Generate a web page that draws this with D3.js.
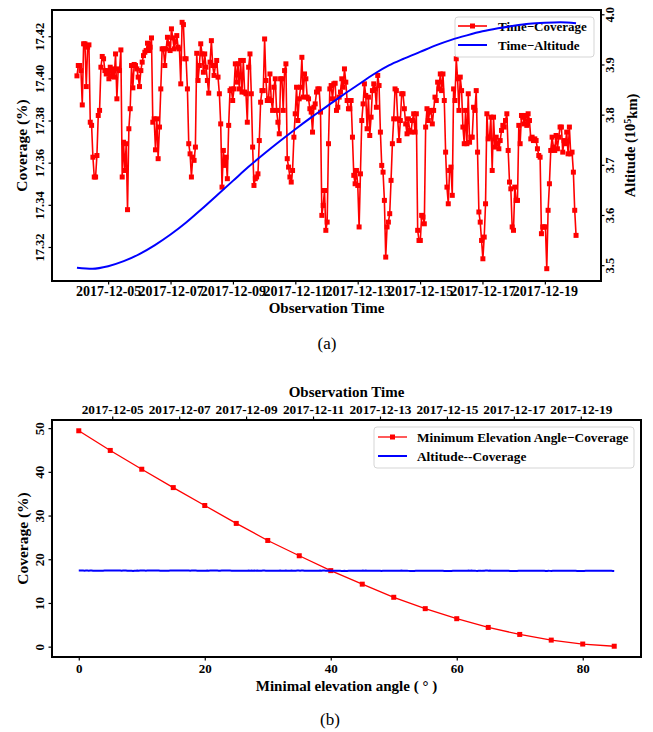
<!DOCTYPE html>
<html><head><meta charset="utf-8">
<script src="https://cdn.jsdelivr.net/npm/d3@7"></script>
<style>
body{margin:0;background:#fff;}
svg text{font-family:"Liberation Serif","Times New Roman",serif;}
</style></head><body>
<svg id="chart" width="653" height="732"></svg>
<script>
// ---------- DATA ----------
const coverageStart = "2017-12-04T00:00:00Z";
const coverageEnd = "2017-12-20T00:00:00Z";
const coverage = [
17.4012,17.4061,17.4061,17.4037,17.3874,17.4164,17.4164,17.3961,17.4148,17.4159,
17.3792,17.3777,17.3626,17.3532,17.3532,17.3634,17.3824,17.3848,17.4053,17.4104,
17.4093,17.4037,17.4021,17.4037,17.3998,17.4053,17.4009,17.4045,17.4006,17.4116,
17.3903,17.4045,17.4037,17.4135,17.3532,17.3697,17.3563,17.3690,17.3377,17.3761,
17.3856,17.4061,17.3955,17.4066,17.4061,17.4045,17.4006,17.3961,17.4037,17.4077,
17.4108,17.4124,17.4132,17.4167,17.4132,17.4148,17.4192,17.3792,17.3808,17.3661,
17.3808,17.3619,17.3769,17.3950,17.4140,17.4140,17.4061,17.4140,17.4195,17.4164,
17.4132,17.4235,17.4192,17.4140,17.4172,17.4203,17.4148,17.4140,17.3974,17.4266,
17.4255,17.4093,17.4093,17.3950,17.3690,17.3642,17.3532,17.3626,17.3611,17.3674,
17.4119,17.3990,17.4061,17.4164,17.4116,17.4029,17.4116,17.4053,17.3990,17.3930,
17.4077,17.4179,17.4061,17.4014,17.4061,17.4085,17.4006,17.3927,17.3784,17.3484,
17.3658,17.3587,17.3626,17.3524,17.3777,17.3942,17.3950,17.3895,17.3950,17.4069,
17.3982,17.4069,17.3950,17.4085,17.3935,17.4085,17.3935,17.3927,17.3792,17.4053,
17.4116,17.3927,17.3674,17.3492,17.3524,17.3532,17.3547,17.3705,17.3887,17.3942,
17.3942,17.4187,17.3990,17.3895,17.3903,17.4021,17.3895,17.3848,17.3958,17.3998,
17.3848,17.3792,17.3737,17.3998,17.3998,17.3848,17.4037,17.4069,17.3619,17.3579,
17.3532,17.3508,17.3563,17.3721,17.3832,17.3958,17.3800,17.3903,17.3958,17.4100,
17.3911,17.4021,17.3998,17.3911,17.3903,17.3856,17.3840,17.3745,17.3863,17.3879,
17.3935,17.3950,17.3950,17.3840,17.3350,17.3397,17.3468,17.3279,17.3318,17.3690,
17.3950,17.3966,17.3903,17.3974,
17.3977,17.3848,17.3863,17.3911,17.3935,17.3998,17.3958,17.4045,17.3982,17.3895,
17.3856,17.3856,17.3895,17.3721,17.3540,17.3500,17.3563,17.3492,17.3295,17.3547,
17.3800,17.3879,17.3974,17.3919,17.3761,17.3911,17.3729,17.3816,17.3942,17.3974,
17.3950,17.3863,17.4014,17.3966,17.3745,17.3587,17.3555,17.3421,17.3152,17.3295,
17.3318,17.3358,17.3516,17.3690,17.3808,17.3950,17.3942,17.3808,17.3705,17.3800,
17.3927,17.3927,17.3856,17.3784,17.3737,17.3808,17.3753,17.3745,17.3800,17.3832,
17.3745,17.3832,17.3279,17.3231,17.3231,17.3350,17.3342,17.3310,17.3769,17.3856,
17.3800,17.3840,17.3848,17.3784,17.3848,17.3911,17.3895,17.3982,17.3950,17.4021,
17.3942,17.4021,17.3895,17.3650,17.3484,17.3405,17.3563,17.3579,17.3445,17.3950,
17.3895,17.4093,17.3998,17.3848,17.4006,17.3942,17.3769,17.3690,17.3848,17.3690,
17.3927,17.3697,17.3721,17.3721,17.3863,17.3848,17.3942,17.3650,17.3366,17.3318,
17.3231,17.3144,17.3247,17.3405,17.3832,17.3713,17.3721,17.3816,17.3563,17.3816,
17.3674,17.3721,17.3690,17.3666,17.3705,17.3753,17.3777,17.3769,17.3800,17.3832,
17.3658,17.3508,17.3476,17.3295,17.3279,17.3484,17.3421,17.3421,17.3777,17.3690,
17.3824,17.3816,17.3784,17.3824,17.3777,17.3832,17.3800,17.3713,17.3721,17.3705,
17.3713,17.3705,17.3666,17.3634,17.3626,17.3263,17.3295,17.3295,17.3295,17.3097,
17.3374,17.3500,17.3658,17.3721,17.3674,17.3658,17.3729,17.3666,17.3721,17.3769,
17.3769,17.3650,17.3705,17.3690,17.3745,17.3642,17.3769,17.3642,17.3650,17.3555,
17.3374,17.3255
];
// altitude (10^5 km), every 12 hours from 2017-12-04 00:00
const altitudeStepHours = 12;
const altitude = [3.495,3.493,3.498,3.508,3.522,3.540,3.561,3.585,3.612,3.640,3.668,
3.696,3.722,3.747,3.771,3.794,3.816,3.838,3.859,3.880,3.898,3.912,3.925,3.938,3.949,
3.958,3.966,3.972,3.977,3.981,3.983,3.984,3.982];
const dateTicks = ["2017-12-05","2017-12-07","2017-12-09","2017-12-11","2017-12-13","2017-12-15","2017-12-17","2017-12-19"];
const covTicks = [17.32,17.34,17.36,17.38,17.40,17.42];
const altTicks = [3.5,3.6,3.7,3.8,3.9,4.0];

const elevAngles = [0,5,10,15,20,25,30,35,40,45,50,55,60,65,70,75,80,85];
const elevCoverage = [49.4,44.9,40.6,36.4,32.3,28.2,24.3,20.8,17.4,14.3,11.3,8.7,6.4,4.4,2.8,1.5,0.6,0.1];
const covTicksB = [0,10,20,30,40,50];
const angleTicks = [0,20,40,60,80];

// ---------- HELPERS ----------
const svg = d3.select("#chart");
const RED = "#ff0000", BLUE = "#0000ff";
const pad = (ext, f = 0.05) => { const d = (+ext[1] - +ext[0]) * f; return [+ext[0] - d, +ext[1] + d]; };
const parseDay = d3.utcParse("%Y-%m-%d");
const t0 = new Date(coverageStart), t1 = new Date(coverageEnd);
const covTimes = coverage.map((_, i) => new Date(+t0 + i * (t1 - t0) / (coverage.length - 1)));
const altTimes = altitude.map((_, i) => new Date(+t0 + i * altitudeStepHours * 3600e3));
const timeDomain = pad([t0, t1]).map(v => new Date(v));

function styleTicks(g, size) {
  g.select(".domain").remove();
  g.selectAll(".tick line").attr("stroke", "#000").attr("stroke-width", 1.2);
  g.selectAll(".tick text").attr("font-size", size).attr("font-weight", "bold").attr("fill", "#000")
    .attr("font-family", "Liberation Serif, Times New Roman, serif");
}
function rotateTicks(g, off) {
  g.selectAll(".tick text").attr("x", 0).attr("y", 0).attr("dy", "0.35em")
    .attr("text-anchor", "middle").attr("transform", `translate(${off},0) rotate(-90)`);
}
function label(x, y, txt, size, rot, weight = "bold") {
  return svg.append("text").attr("transform", `translate(${x},${y})${rot ? " rotate(-90)" : ""}`)
    .attr("text-anchor", "middle").attr("dy", "0.35em").attr("font-size", size)
    .attr("font-weight", weight).text(txt);
}

// ---------- PANEL (a) ----------
const A = {l: 52, r: 601, t: 10, b: 281};
const xA = d3.scaleUtc().domain(timeDomain).range([A.l, A.r]);
const yL = d3.scaleLinear().domain(pad(d3.extent(coverage))).range([A.b, A.t]);
const yR = d3.scaleLinear().domain(pad(d3.extent(altitude))).range([A.b, A.t]);

const gA = svg.append("g");
gA.append("path").datum(coverage).attr("fill", "none").attr("stroke", RED).attr("stroke-width", 1.6)
  .attr("stroke-linejoin", "round")
  .attr("d", d3.line().x((d, i) => xA(covTimes[i])).y(d => yL(d)));
gA.selectAll("rect.m").data(coverage).join("rect").attr("class", "m")
  .attr("x", (d, i) => xA(covTimes[i]) - 2.5).attr("y", d => yL(d) - 2.5)
  .attr("width", 5).attr("height", 5).attr("fill", RED);

// legend (a)
const LA = {x: 455, y: 17, w: 139, h: 40};
svg.append("rect").attr("x", LA.x).attr("y", LA.y).attr("width", LA.w).attr("height", LA.h)
  .attr("rx", 3).attr("fill", "#fff").attr("fill-opacity", 0.8).attr("stroke", "#d5d5d5").attr("stroke-width", 1);
svg.append("line").attr("x1", 458).attr("x2", 487).attr("y1", 26).attr("y2", 26).attr("stroke", RED).attr("stroke-width", 1.6);
svg.append("rect").attr("x", 470).attr("y", 23.5).attr("width", 5).attr("height", 5).attr("fill", RED);
svg.append("text").attr("x", 498).attr("y", 26).attr("dy", "0.35em").attr("font-size", 13).attr("font-weight", "bold").text("Time\u2212Coverage");
svg.append("line").attr("x1", 458).attr("x2", 487).attr("y1", 45).attr("y2", 45).attr("stroke", BLUE).attr("stroke-width", 2);
svg.append("text").attr("x", 498).attr("y", 45).attr("dy", "0.35em").attr("font-size", 13).attr("font-weight", "bold").text("Time\u2212Altitude");

// altitude curve (twin axis, drawn on top)
svg.append("path").datum(altitude).attr("fill", "none").attr("stroke", BLUE).attr("stroke-width", 2)
  .attr("d", d3.line().curve(d3.curveMonotoneX).x((d, i) => xA(altTimes[i])).y(d => yR(d)));

// frame & axes
svg.append("rect").attr("x", A.l).attr("y", A.t).attr("width", A.r - A.l).attr("height", A.b - A.t)
  .attr("fill", "none").attr("stroke", "#000").attr("stroke-width", 2);
svg.append("g").attr("transform", `translate(0,${A.b})`)
  .call(d3.axisBottom(xA).tickValues(dateTicks.map(parseDay)).tickFormat(d3.utcFormat("%Y-%m-%d")).tickSize(3.5).tickPadding(2))
  .call(g => styleTicks(g, 14));
svg.append("g").attr("transform", `translate(${A.l},0)`)
  .call(d3.axisLeft(yL).tickValues(covTicks).tickFormat(d3.format(".2f")).tickSize(3.5))
  .call(g => styleTicks(g, 12.5)).call(g => rotateTicks(g, -12.5));
svg.append("g").attr("transform", `translate(${A.r},0)`)
  .call(d3.axisRight(yR).tickValues(altTicks).tickFormat(d3.format(".1f")).tickSize(3.5))
  .call(g => styleTicks(g, 12.5)).call(g => rotateTicks(g, 9));

label((A.l + A.r) / 2, 308, "Observation Time", 15);
label(22, (A.t + A.b) / 2, "Coverage (%)", 15.5, true);
const altLab = svg.append("text").attr("transform", `translate(630,${(A.t + A.b) / 2}) rotate(-90)`)
  .attr("text-anchor", "middle").attr("dy", "0.35em").attr("font-size", 14.5).attr("font-weight", "bold");
altLab.append("tspan").text("Altitude (10");
altLab.append("tspan").attr("dy", "-0.45em").attr("font-size", 10).text("5");
altLab.append("tspan").attr("dy", "0.45em").text("km)");
label(327, 343, "(a)", 17, false, "normal");

// ---------- PANEL (b) ----------
const B = {l: 52, r: 641, t: 420, b: 657};
const xB = d3.scaleLinear().domain(pad(d3.extent(elevAngles))).range([B.l, B.r]);
const xT = d3.scaleUtc().domain(timeDomain).range([B.l, B.r]);
const yB = d3.scaleLinear().domain(pad(d3.extent(elevCoverage.concat(coverage)))).range([B.b, B.t]);

svg.append("path").datum(elevCoverage).attr("fill", "none").attr("stroke", RED).attr("stroke-width", 1.3)
  .attr("d", d3.line().x((d, i) => xB(elevAngles[i])).y(d => yB(d)));
svg.selectAll("rect.mb").data(elevCoverage).join("rect").attr("class", "mb")
  .attr("x", (d, i) => xB(elevAngles[i]) - 2.5).attr("y", d => yB(d) - 2.5)
  .attr("width", 5).attr("height", 5).attr("fill", RED);

// legend (b)
svg.append("rect").attr("x", 374).attr("y", 427).attr("width", 260).attr("height", 41)
  .attr("rx", 3).attr("fill", "#fff").attr("fill-opacity", 0.8).attr("stroke", "#d5d5d5").attr("stroke-width", 1);
svg.append("line").attr("x1", 378).attr("x2", 407).attr("y1", 437).attr("y2", 437).attr("stroke", RED).attr("stroke-width", 1.3);
svg.append("rect").attr("x", 390).attr("y", 434.5).attr("width", 5).attr("height", 5).attr("fill", RED);
svg.append("text").attr("x", 417).attr("y", 437).attr("dy", "0.35em").attr("font-size", 13.3).attr("font-weight", "bold").text("Minimum Elevation Angle\u2212Coverage");
svg.append("line").attr("x1", 378).attr("x2", 407).attr("y1", 456).attr("y2", 456).attr("stroke", BLUE).attr("stroke-width", 2);
svg.append("text").attr("x", 417).attr("y", 456).attr("dy", "0.35em").attr("font-size", 13.3).attr("font-weight", "bold").text("Altitude--Coverage");

svg.append("path").datum(coverage).attr("fill", "none").attr("stroke", BLUE).attr("stroke-width", 2)
  .attr("d", d3.line().x((d, i) => xT(covTimes[i])).y(d => yB(d)));

svg.append("rect").attr("x", B.l).attr("y", B.t).attr("width", B.r - B.l).attr("height", B.b - B.t)
  .attr("fill", "none").attr("stroke", "#000").attr("stroke-width", 2);
svg.append("g").attr("transform", `translate(0,${B.b})`)
  .call(d3.axisBottom(xB).tickValues(angleTicks).tickFormat(d3.format("d")).tickSize(3.5).tickPadding(3))
  .call(g => styleTicks(g, 13));
svg.append("g").attr("transform", `translate(0,${B.t})`)
  .call(d3.axisTop(xT).tickValues(dateTicks.map(parseDay)).tickFormat(d3.utcFormat("%Y-%m-%d")).tickSize(3.5).tickPadding(2.5))
  .call(g => styleTicks(g, 13.3));
svg.append("g").attr("transform", `translate(${B.l},0)`)
  .call(d3.axisLeft(yB).tickValues(covTicksB).tickFormat(d3.format("d")).tickSize(3.5))
  .call(g => styleTicks(g, 13)).call(g => rotateTicks(g, -13));

label((B.l + B.r) / 2, 392, "Observation Time", 15);
label((B.l + B.r) / 2, 686, "Minimal elevation angle ( \u00B0 )", 15);
label(23, (B.t + B.b) / 2, "Coverage (%)", 15.5, true);
label(330, 719, "(b)", 17, false, "normal");
</script>
</body></html>
